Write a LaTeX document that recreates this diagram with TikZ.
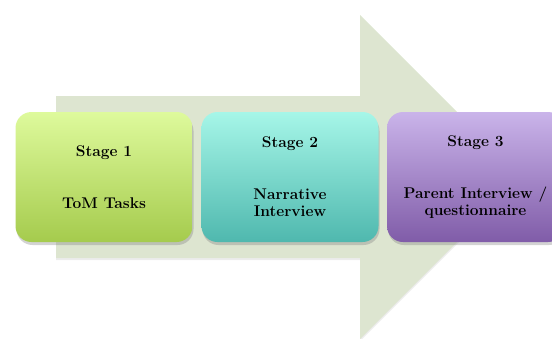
\documentclass[tikz,border=0pt]{standalone}
\usepackage{fontspec}
\usetikzlibrary{shadows}
\definecolor{arrowfill}{RGB}{221,229,208}
\definecolor{limetop}{RGB}{222,250,156}
\definecolor{limebot}{RGB}{165,203,77}
\definecolor{aquatop}{RGB}{166,246,232}
\definecolor{aquabot}{RGB}{79,184,174}
\definecolor{lilactop}{RGB}{202,180,234}
\definecolor{lilacbot}{RGB}{128,92,168}
\tikzset{
	stagebox/.style={rounded corners=16pt, minimum width=177pt, minimum height=130pt,
		align=center, font=\fontsize{15.5}{17}\selectfont\bfseries,
		drop shadow={shadow xshift=1pt, shadow yshift=-3pt, opacity=0.35}},
}
\begin{document}
\begin{tikzpicture}[x=1pt, y=-1pt]
	\useasboundingbox (0,0) rectangle (552,338);
	% Big arrow behind the stages
	\fill[arrowfill, drop shadow={shadow xshift=0pt, shadow yshift=-2pt, opacity=0.15}]
		(56,96) -- (360,96) -- (360,15) -- (522,177) -- (360,339) -- (360,258) -- (56,258) -- cycle;
	% Stages
	\node[stagebox, top color=limetop, bottom color=limebot] (s1) at (104,177) {Stage 1\\[35pt]ToM Tasks};
	\node[stagebox, top color=aquatop, bottom color=aquabot] (s2) at (290,177) {Stage 2\\[35pt]Narrative\\Interview};
	\node[stagebox, top color=lilactop, bottom color=lilacbot] (s3) at (475.5,177) {Stage 3\\[35pt]Parent Interview /\\questionnaire};
\end{tikzpicture}
\end{document}
